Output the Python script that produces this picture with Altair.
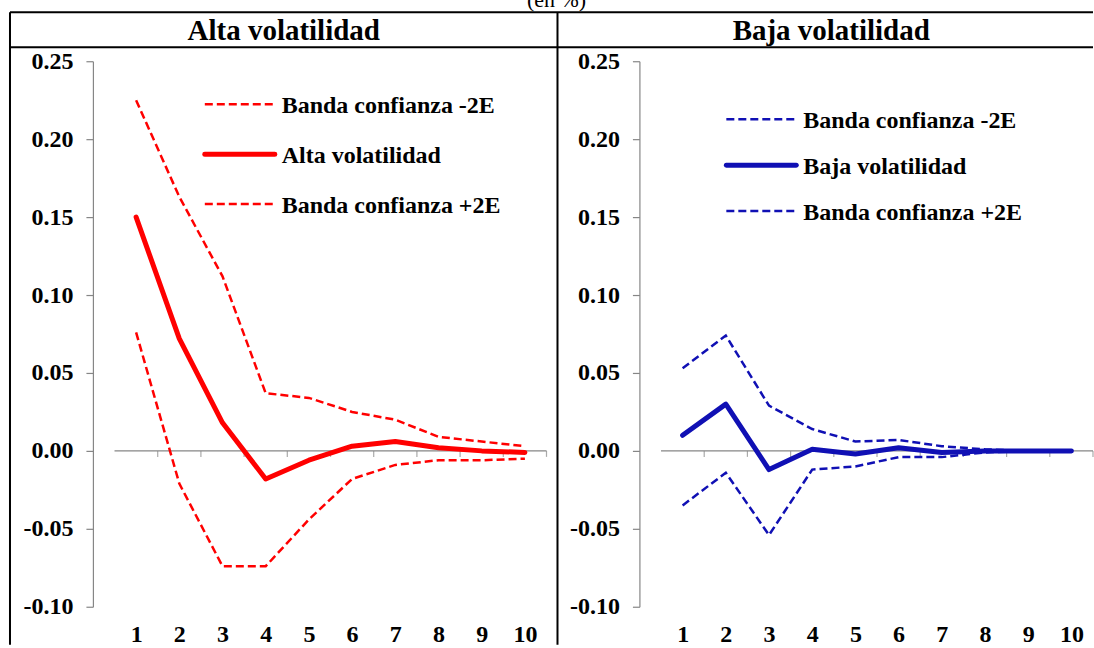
import altair as alt
import pandas as pd

# Horizonte de la respuesta (periodos)
horizonte = list(range(1, 11))

# Régimen de alta volatilidad
alta_central = [0.150, 0.072, 0.018, -0.018, -0.006, 0.003, 0.006, 0.002, 0.000, -0.001]
alta_sup = [0.225, 0.163, 0.112, 0.037, 0.034, 0.025, 0.020, 0.009, 0.006, 0.003]
alta_inf = [0.076, -0.021, -0.074, -0.074, -0.044, -0.018, -0.009, -0.006, -0.006, -0.005]

# Régimen de baja volatilidad
baja_central = [0.010, 0.030, -0.012, 0.001, -0.002, 0.002, -0.001, 0.000, 0.000, 0.000]
baja_sup = [0.053, 0.074, 0.029, 0.014, 0.006, 0.007, 0.003, 0.001, 0.000, 0.000]
baja_inf = [-0.035, -0.014, -0.054, -0.012, -0.010, -0.004, -0.004, -0.001, 0.000, 0.000]

y_ticks = [-0.10, -0.05, 0.00, 0.05, 0.10, 0.15, 0.20, 0.25]

FONT = "Times New Roman, Liberation Serif, serif"
ROJO = "#FF0000"
AZUL = "#1010B4"
GRIS = "#868686"
W, H = 454, 546
UNO = alt.InlineData(values=[{"k": 1}])


def panel(nombre, central, sup, inf, color, leg_x, leg_y, titulo_x):
    df = pd.DataFrame({
        "h": horizonte * 3,
        "valor": sup + central + inf,
        "serie": ["Banda confianza -2E"] * 10 + [nombre] * 10 + ["Banda confianza +2E"] * 10,
    })
    x = alt.X("h:Q", scale=alt.Scale(domain=[0.5, 10.5], nice=False),
              axis=alt.Axis(values=horizonte, format="d", domain=False, ticks=False,
                            tickSize=0, labelPadding=16, grid=False, title=None))
    y = alt.Y("valor:Q", scale=alt.Scale(domain=[-0.10, 0.25], nice=False, zero=False),
              axis=alt.Axis(values=y_ticks, format=".2f", grid=False, title=None,
                            tickSize=7, labelPadding=13,
                            labelExpr="replace(datum.label, '\u2212', '-')"))
    base = alt.Chart(df).encode(x=x, y=y, detail="serie:N")

    bandas = base.transform_filter(alt.datum.serie != nombre).mark_line(
        color=color, strokeWidth=2.5, strokeDash=[8, 4])
    linea = base.transform_filter(alt.datum.serie == nombre).mark_line(
        color=color, strokeWidth=5, strokeCap="round", strokeJoin="round")

    # eje horizontal en cero con marcas entre periodos
    eje = alt.Chart(UNO).mark_rule(color=GRIS, strokeWidth=1.2).encode(
        x=alt.datum(0.5), x2=alt.datum(10.5), y=alt.datum(0))
    marcas = alt.Chart(pd.DataFrame({"b": [h + 0.5 for h in horizonte]})).mark_tick(
        orient="vertical", color=GRIS, size=6, thickness=1.2, yOffset=3
    ).encode(x="b:Q", y=alt.datum(0))

    capas = [eje, marcas, bandas, linea]

    # leyenda
    etiquetas = ["Banda confianza -2E", nombre, "Banda confianza +2E"]
    for i, et in enumerate(etiquetas):
        yy = leg_y[i]
        if i == 1:
            sim = alt.Chart(UNO).mark_rule(color=color, strokeWidth=5, strokeCap="round")
        else:
            sim = alt.Chart(UNO).mark_rule(color=color, strokeWidth=2.5, strokeDash=[8, 4])
        capas.append(sim.encode(x=alt.value(leg_x), x2=alt.value(leg_x + 70), y=alt.value(yy)))
        capas.append(alt.Chart(UNO).mark_text(
            align="left", baseline="middle", font=FONT, fontSize=24, fontWeight="bold",
            color="black").encode(x=alt.value(leg_x + 77), y=alt.value(yy + 2),
                                  text=alt.value(et)))

    # título de la columna
    capas.append(alt.Chart(UNO).mark_text(
        align="center", baseline="middle", font=FONT, fontSize=29, fontWeight="bold",
        color="black").encode(x=alt.value(titulo_x), y=alt.value(-30), text=alt.value(nombre)))
    return capas


izq = panel("Alta volatilidad", alta_central, alta_sup, alta_inf, ROJO,
            112, [43, 93, 143], 191)
der = panel("Baja volatilidad", baja_central, baja_sup, baja_inf, AZUL,
            87, [58, 104, 150], 192)

# marco tipo tabla y nota de unidades
marco = []
for (x0, x1, y0, y1) in [(-83, 1001, -49, -49), (-83, 1001, -14, -14),
                         (-83, -83, -49, 584), (465, 465, -49, 584)]:
    marco.append(alt.Chart(UNO).mark_rule(color="black", strokeWidth=2).encode(
        x=alt.value(x0), x2=alt.value(x1), y=alt.value(y0), y2=alt.value(y1)))
marco.append(alt.Chart(UNO).mark_text(
    align="center", baseline="alphabetic", font=FONT, fontSize=22, color="black"
).encode(x=alt.value(464), y=alt.value(-54), text=alt.value("(en %)")))

left = alt.layer(*(izq + marco)).properties(width=W, height=H)
right = alt.layer(*der).properties(width=W, height=H)

chart = alt.hconcat(left, right, spacing=93, bounds="flush").properties(
    padding={"left": 9, "top": -11, "right": 0, "bottom": 0}
).configure_view(stroke=None).configure_axis(
    labelFont=FONT, labelFontSize=24, labelFontWeight="bold", labelColor="black",
    domainColor=GRIS, tickColor=GRIS, domainWidth=1.2, tickWidth=1.2
)

chart.save("out.html", embed_options={"renderer": "svg", "actions": False})
